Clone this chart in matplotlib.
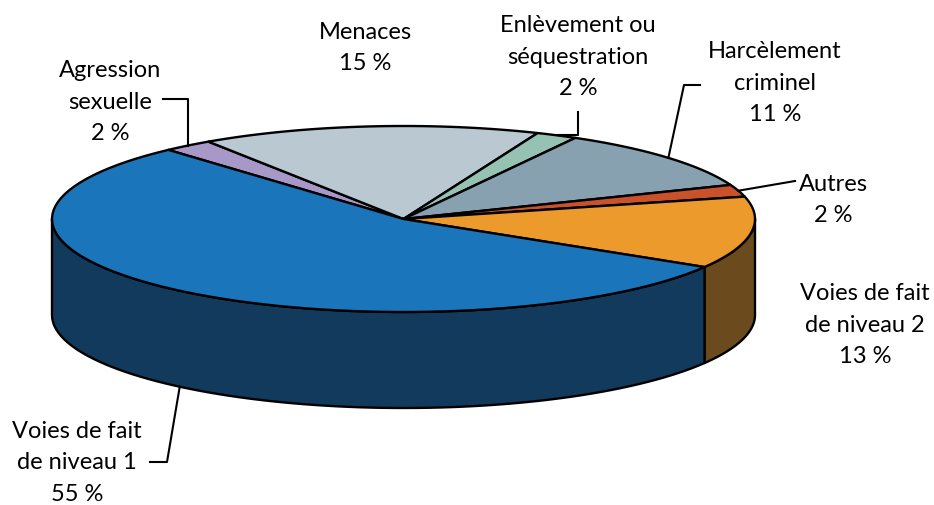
import numpy as np
import matplotlib.pyplot as plt
from matplotlib.patches import Polygon

# slices in drawing order, clockwise from the Agression / Voies 1 boundary
labels = ['Agression\nsexuelle\n2 %', 'Menaces\n15 %', 'Enlèvement ou\nséquestration\n2 %',
          'Harcèlement\ncriminel\n11 %', 'Autres\n2 %', 'Voies de fait\nde niveau 2\n13 %',
          'Voies de fait\nde niveau 1\n55 %']
shares = [2.3, 15.6, 1.9, 10.9, 2.1, 12.5, 54.7]
colors = ['#A898C8', '#BAC8D1', '#96C2B4', '#87A1B1', '#C9522B', '#EC9A2B', '#1B75BA']
side_colors = ['#4A4060', '#55606A', '#406458', '#3C4C58', '#6A2A16', '#6B4B1E', '#113A5D']

label_pos = [(110, 102), (365, 48), (578, 57), (775, 83), (833, 200), (865, 325), (77, 463)]

cx, cy, a, b, depth = 403.5, 220, 351.5, 93, 96
start = 132.0

plt.rcParams['font.family'] = ['Lato', 'DejaVu Sans']

fig = plt.figure(figsize=(9.34, 5.06), dpi=100)
ax = fig.add_axes([0, 0, 1, 1])
ax.set_xlim(0, 934)
ax.set_ylim(506, 0)
ax.axis('off')


def arc(t1, t2, dy=0, n=80):
    t = np.radians(np.linspace(t1, t2, n))
    return np.column_stack([cx + a * np.cos(t), cy + dy - b * np.sin(t)])


bounds = start - np.concatenate([[0], np.cumsum(shares) * 3.6])
mids = []

# side walls (front half only)
for i in range(len(shares)):
    s, e = bounds[i], bounds[i + 1]
    mids.append((s + e) / 2)
    for lo, hi in [(-180, 0), (-540, -360), (180, 360)]:
        t1, t2 = max(e, lo), min(s, hi)
        if t1 < t2:
            top = arc(t2, t1)
            bot = arc(t1, t2, dy=depth)
            ax.add_patch(Polygon(np.vstack([top, bot]), closed=True, fc=side_colors[i],
                                 ec='black', lw=1.7, joinstyle='round'))

# top faces
for i in range(len(shares)):
    pts = np.vstack([[cx, cy], arc(bounds[i], bounds[i + 1])])
    ax.add_patch(Polygon(pts, closed=True, fc=colors[i], ec='black', lw=1.7, joinstyle='round'))

for (x, y), lab in zip(label_pos, labels):
    ax.text(x, y, lab, ha='center', va='center', fontsize=17, linespacing=1.62, color='black')


def anchor(i, dy=0):
    t = np.radians(mids[i])
    return cx + a * np.cos(t), cy + dy - b * np.sin(t)


ln = dict(color='black', lw=1.5)
x0, y0 = anchor(0)
ax.plot([163, x0, x0], [100, 100, y0], **ln)
x0, y0 = anchor(2)
ax.plot([578, 578, x0], [113, y0, y0], **ln)
x0, y0 = anchor(3)
ax.plot([700, 684, x0], [86, 86, y0], **ln)
x0, y0 = anchor(4)
ax.plot([795, x0], [182, y0], **ln)
x0, y0 = anchor(6, dy=depth)
ax.plot([150, 167, x0], [463, 463, y0], **ln)

fig.savefig('out.png', dpi=100)
